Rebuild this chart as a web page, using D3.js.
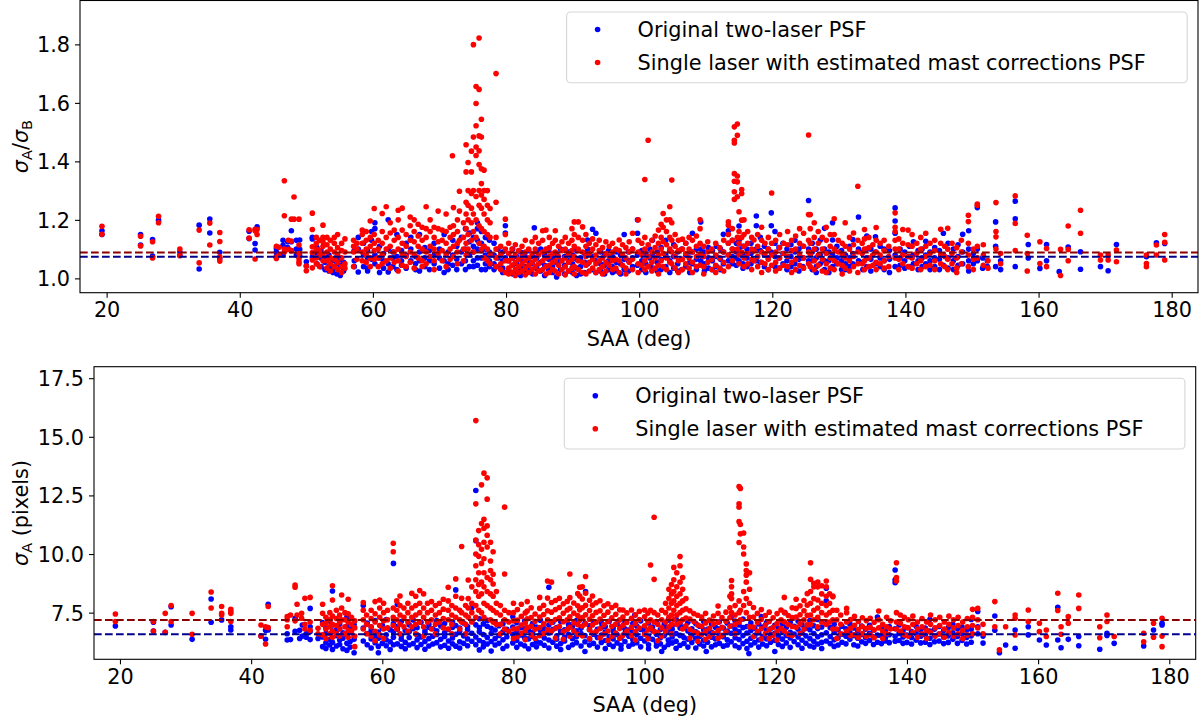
<!DOCTYPE html>
<html>
<head>
<meta charset="utf-8">
<script src="https://cdn.jsdelivr.net/npm/d3@7"></script>
<style>
  html, body { margin: 0; padding: 0; background: #fff; }
  svg { display: block; font-family: "DejaVu Sans", sans-serif; }
</style>
</head>
<body>
<svg id="chart" width="1203" height="721"></svg>
<script>
// ---------------- DATA (columns: [SAA, value, value, ...]) ----------------
const legendLabels = ["Original two-laser PSF", "Single laser with estimated mast corrections PSF"];
const xTicks = [20, 40, 60, 80, 100, 120, 140, 160, 180];
const topYTicks = [1.0, 1.2, 1.4, 1.6, 1.8];
const bottomYTicks = [7.5, 10.0, 12.5, 15.0, 17.5];
const topMeanOriginal = 1.0738, topMeanSingle = 1.0887;
const bottomMeanOriginal = 6.58, bottomMeanSingle = 7.19;

// Top panel: sigma_A / sigma_B, original two-laser PSF
const topOriginal = [
[19.3,1.163,1.15],[25.1,1.15,1.114],[26.9,1.133,1.076],[27.8,1.199],[31.0,1.09,1.078],[33.9,1.182,1.032],
[35.5,1.203,1.155],[37.0,1.089,1.068],[41.4,1.161,1.136],[42.3,1.119,1.097],[42.6,1.176],
[45.5,1.102,1.076,1.09],[46.5,1.13,1.113,1.08],[47.2,1.125,1.105],[47.75,1.163,1.125,1.095],[48.5,1.13,1.10,1.08],
[49.0,1.131,1.099,1.078],[50.0,1.057,1.042],[50.9,1.14,1.135,1.073],[51.6,1.105,1.085,1.05],[52.2,1.095,1.07,1.04],
[52.8,1.07,1.055,1.03],[53.4,1.08,1.04,1.025],[54.0,1.06,1.035,1.02],[54.6,1.075,1.05,1.015],[55.1,1.065,1.045,1.01],
[55.6,1.055,1.03,1.025],[57.2,1.095,1.06,1.04],[57.8,1.14,1.1,1.022],[58.6,1.12,1.08,1.04],[59.2,1.095,1.07,1.025,1.035],
[59.8,1.16,1.13,1.065],[60.3,1.19,1.17,1.08,1.05],[61.0,1.11,1.07,1.02],[61.6,1.085,1.06,1.035],[62.3,1.2,1.1,1.05,1.022],
[63.0,1.09,1.07,1.04],[63.6,1.15,1.075,1.03],[64.3,1.095,1.06,1.045],[65.0,1.12,1.08,1.035],[65.7,1.14,1.1,1.06],
[66.4,1.075,1.05,1.03],[67.0,1.15,1.09,1.06,1.025],[67.8,1.105,1.07,1.04],[68.5,1.095,1.06,1.03],[69.2,1.12,1.08,1.05],
[70.0,1.1,1.07,1.035],[70.7,1.15,1.06,1.02],[71.3,1.09,1.05,1.03],[72.0,1.13,1.08,1.045],[72.6,1.11,1.065,1.03],
[73.3,1.14,1.09,1.05],[73.9,1.17,1.1,1.06,1.03],[74.5,1.155,1.125,1.08,1.04],[75.1,1.14,1.11,1.09,1.06,1.04],
[75.7,1.19,1.17,1.13,1.1,1.07,1.045],[76.3,1.16,1.12,1.095,1.07,1.03],[76.9,1.14,1.1,1.08,1.05,1.03],
[77.5,1.13,1.09,1.06,1.04],[78.2,1.12,1.08,1.05,1.03],[78.8,1.1,1.07,1.04],[79.5,1.09,1.06,1.035,1.02],[79.9,1.18,1.155,1.07],
[80.4,1.085,1.06,1.03],[81.0,1.1,1.07,1.045,1.015],[81.6,1.075,1.05,1.02],[82.2,1.09,1.065,1.035,1.01],[82.8,1.08,1.04,1.02],
[83.4,1.095,1.06,1.03],[84.0,1.075,1.05,1.015],[84.25,1.173],[84.6,1.09,1.07,1.035],[85.2,1.1,1.055,1.025],[85.8,1.08,1.045,1.01],
[86.4,1.095,1.065,1.03],[87.0,1.07,1.04,1.02],[87.6,1.085,1.055,1.005],[88.2,1.1,1.06,1.03],[88.8,1.075,1.045,1.015],
[89.4,1.09,1.06,1.025],[90.0,1.08,1.05,1.02],[90.6,1.095,1.065,1.035,1.01],[91.2,1.07,1.04,1.015],[91.8,1.085,1.055,1.02],
[92.25,1.131,1.1,1.05],[93.0,1.168,1.075,1.03],[93.5,1.154,1.06,1.02],[94.2,1.09,1.05,1.025],[94.8,1.08,1.045,1.015],
[95.4,1.095,1.06,1.03],[96.0,1.075,1.04,1.02],[96.6,1.09,1.055,1.025],[97.2,1.08,1.05,1.015],[97.75,1.15,1.065,1.03],
[98.4,1.09,1.06,1.025],[99.0,1.1,1.07,1.04],[99.75,1.2,1.154,1.08,1.045],[100.4,1.095,1.06,1.03],[101.0,1.085,1.05,1.02],
[101.6,1.1,1.07,1.04],[102.0,1.13,1.08,1.035],[102.7,1.09,1.055,1.025],[103.3,1.105,1.065,1.03],[104.0,1.13,1.08,1.04],
[104.6,1.095,1.06,1.02],[105.2,1.115,1.075,1.035],[105.8,1.09,1.05,1.025],[106.4,1.1,1.065,1.03],[107.0,1.12,1.08,1.04],
[107.6,1.09,1.055,1.02],[108.0,1.154,1.09,1.05],[108.6,1.1,1.065,1.03],[109.25,1.193,1.1,1.06],[109.8,1.09,1.05,1.025],
[110.4,1.105,1.07,1.035],[111.0,1.095,1.06,1.03],[111.6,1.11,1.075,1.04],[112.2,1.1,1.065,1.03],[112.65,1.151,1.09,1.05],
[113.4,1.163,1.12,1.08,1.06],[114.0,1.13,1.1,1.075,1.05],[114.6,1.12,1.09,1.07,1.045],[115.0,1.179,1.13,1.1,1.06],
[115.6,1.11,1.08,1.05,1.035],[116.2,1.1,1.07,1.04],[116.8,1.12,1.085,1.05],[117.6,1.213,1.18,1.1,1.06],[118.2,1.14,1.095,1.055],
[118.8,1.11,1.08,1.04],[119.4,1.1,1.07,1.03],[119.85,1.224,1.18,1.09],[120.4,1.16,1.12,1.075,1.04],[121.0,1.105,1.07,1.035],
[121.6,1.12,1.085,1.05],[122.2,1.1,1.06,1.03],[122.8,1.115,1.075,1.04],[123.4,1.13,1.09,1.05],[124.0,1.1,1.065,1.025],
[124.6,1.11,1.07,1.04],[125.45,1.266,1.1,1.06],[126.0,1.12,1.09,1.06,1.03],[126.6,1.1,1.07,1.04,1.02],[127.2,1.13,1.08,1.05],
[127.85,1.171,1.1,1.06,1.03],[128.5,1.09,1.06,1.02],[129.05,1.131,1.19,1.08,1.04],[129.7,1.11,1.07,1.05],[130.4,1.095,1.06,1.03],
[131.0,1.08,1.05,1.03],[131.6,1.11,1.07,1.04],[132.1,1.133,1.085,1.05],[132.95,1.21,1.1,1.06],[133.6,1.09,1.055,1.03],
[134.2,1.145,1.1,1.07,1.04],[134.8,1.1,1.065,1.025],[135.5,1.142,1.09,1.05],[136.2,1.11,1.07,1.04],[136.8,1.1,1.06,1.03],
[137.6,1.095,1.065,1.02],[138.45,1.241,1.196,1.154,1.08,1.04],[139.2,1.1,1.07,1.045],[139.9,1.09,1.06,1.035],
[140.6,1.11,1.075,1.04],[141.2,1.125,1.08,1.05],[141.9,1.095,1.06,1.03],[142.5,1.1,1.07,1.04],[143.05,1.127,1.08,1.05],
[143.7,1.09,1.06,1.03],[144.4,1.105,1.07,1.04],[145.1,1.095,1.065,1.03],[145.7,1.154,1.08,1.045],[146.4,1.12,1.07,1.035],
[147.2,1.1,1.06,1.03],[147.9,1.115,1.075,1.045],[148.6,1.151,1.09,1.05],[149.5,1.163,1.1,1.06,1.025],[150.2,1.085,1.05],
[150.8,1.242,1.1,1.06],[151.6,1.07,1.035],[152.3,1.06,1.04],[153.55,1.193,1.11,1.04],[154.3,1.03,1.06],
[156.5,1.264,1.204,1.04],[158.45,1.116,1.07],[160.2,1.034],[161.2,1.116,1.06],[163.1,1.023],[164.45,1.107],
[166.3,1.091,1.031],[169.3,1.04],[170.45,1.026],[171.7,1.116],[176.2,1.074],[177.7,1.122],[178.95,1.119]
];

// Top panel: sigma_A / sigma_B, single laser with estimated mast corrections PSF
const topSingle = [
[19.3,1.178,1.151],[25.1,1.144,1.111],[26.9,1.125,1.07],[27.8,1.2125,1.19],[31.0,1.1,1.078],[33.9,1.165,1.053],
[35.5,1.189,1.114],[37.0,1.157,1.126,1.074,1.059],[41.4,1.166,1.1375],[42.3,1.168,1.1625,1.066],[42.6,1.167,1.15],
[45.5,1.11,1.068,1.072],[45.9,1.106,1.08],[46.7,1.334,1.214,1.1,1.09],[47.3,1.13,1.099],[47.75,1.2025,1.128,1.095],
[48.15,1.278,1.2025],[48.9,1.2025,1.114,1.085,1.068,1.057,1.05],[50.0,1.042,1.026],
[50.9,1.223,1.167,1.108,1.088,1.063,1.036],[51.5,1.14,1.12,1.1,1.07,1.05],[52.0,1.13,1.095,1.08,1.04],
[52.5,1.182,1.14,1.125,1.11,1.08,1.06],[53.1,1.14,1.115,1.09,1.06,1.035],[53.6,1.13,1.1,1.07,1.05,1.025],
[54.2,1.14,1.12,1.09,1.065,1.04],[54.7,1.15,1.105,1.08,1.055,1.03],[55.3,1.12,1.095,1.07,1.04,1.02],
[55.8,1.135,1.09,1.05,1.035],[57.1,1.13,1.11,1.09,1.04],[57.6,1.12,1.1,1.065],[58.4,1.165,1.15,1.12,1.09,1.06],
[59.0,1.16,1.13,1.1,1.08,1.055],[59.6,1.196,1.14,1.11,1.07,1.04],[60.2,1.239,1.15,1.12,1.095,1.065],
[60.8,1.13,1.1,1.07,1.04],[61.4,1.222,1.16,1.12,1.08,1.05],[62.0,1.245,1.14,1.1,1.06],[62.6,1.19,1.155,1.11,1.07,1.035],
[63.2,1.165,1.13,1.09,1.055],[63.8,1.233,1.2,1.14,1.1,1.06,1.025],[64.4,1.24,1.165,1.12,1.08,1.045],
[65.0,1.15,1.11,1.075,1.04],[65.6,1.21,1.18,1.13,1.09,1.055],[66.2,1.2,1.16,1.125,1.08,1.035],[66.8,1.185,1.145,1.11,1.07],
[67.4,1.175,1.13,1.1,1.06,1.04],[68.0,1.245,1.17,1.14,1.09,1.05],[68.6,1.2,1.16,1.11,1.075],[69.2,1.175,1.14,1.1,1.06,1.03],
[69.8,1.23,1.17,1.125,1.085],[70.4,1.165,1.13,1.095,1.06],[71.0,1.22,1.16,1.12,1.08,1.04],[71.6,1.175,1.14,1.1,1.065],
[71.95,1.419],[72.1,1.242,1.18,1.15,1.11,1.075],[72.7,1.2,1.16,1.12,1.09,1.05],[73.0,1.298,1.23,1.13],
[73.6,1.19,1.14,1.1,1.06],[74.0,1.457,1.364,1.26,1.22,1.17,1.12,1.08],[74.3,1.396,1.3,1.25,1.2,1.15,1.1],
[74.8,1.435,1.364,1.29,1.24,1.19,1.13],[75.1,1.799,1.483,1.3,1.22,1.16,1.09],
[75.5,1.656,1.598,1.522,1.449,1.42,1.28,1.2,1.14],[75.95,1.822,1.646,1.487,1.436,1.389,1.3,1.25,1.18,1.12],
[76.3,1.544,1.483,1.375,1.324,1.285,1.24,1.17,1.1],[76.7,1.37,1.3,1.27,1.22,1.16,1.11,1.07],
[77.2,1.3,1.25,1.2,1.15,1.1,1.06],[77.6,1.239,1.19,1.14,1.08,1.05],[78.5,1.70,1.26,1.14,1.1,1.07,1.04],
[79.2,1.11,1.08,1.05,1.03],[79.9,1.2025,1.15,1.1,1.06,1.02],
[80.4,1.12,1.085,1.06,1.035,1.015],[80.9,1.1,1.07,1.045,1.02],[81.4,1.115,1.08,1.055,1.03,1.01],[81.9,1.095,1.065,1.04,1.02],
[82.4,1.11,1.075,1.05,1.025],[82.9,1.13,1.09,1.06,1.035,1.012],[83.4,1.1,1.07,1.045,1.02],[83.9,1.125,1.085,1.055,1.03],
[84.4,1.14,1.1,1.065,1.04,1.015],[84.9,1.12,1.08,1.05,1.025],[85.5,1.163,1.13,1.09,1.06,1.03],[86.0,1.165,1.1,1.07,1.04,1.015],
[86.5,1.14,1.105,1.075,1.045,1.02],[87.0,1.12,1.085,1.055,1.03],[87.4,1.163,1.13,1.09,1.06,1.025],[87.9,1.11,1.075,1.045,1.015],
[88.4,1.125,1.095,1.06,1.03],[88.9,1.14,1.1,1.07,1.04,1.012],[89.4,1.12,1.085,1.055,1.025],[89.9,1.17,1.13,1.095,1.065,1.035],
[90.25,1.193,1.15,1.11,1.075,1.04,1.015],[90.85,1.193,1.14,1.1,1.06,1.03],[91.5,1.176,1.13,1.09,1.055,1.02],
[92.0,1.15,1.11,1.075,1.045,1.015],[92.5,1.12,1.085,1.055,1.025],[93.0,1.135,1.1,1.065,1.035],[93.5,1.115,1.08,1.05,1.02],
[94.0,1.13,1.095,1.06,1.03],[94.5,1.105,1.07,1.04,1.015],[95.0,1.125,1.085,1.055,1.025],[95.5,1.11,1.075,1.045],
[96.0,1.12,1.09,1.06,1.03],[96.5,1.1,1.065,1.035],[97.0,1.131,1.095,1.06,1.02],[97.5,1.115,1.08,1.045],
[98.0,1.105,1.07,1.035,1.015],[98.5,1.125,1.09,1.055],[99.0,1.154,1.1,1.065,1.03],[99.85,1.2,1.13,1.09,1.05,1.02],
[100.4,1.12,1.08,1.045],[100.85,1.338,1.14,1.1,1.06,1.03],[101.35,1.472,1.115,1.075,1.04],[101.9,1.13,1.09,1.055,1.025],
[102.4,1.145,1.105,1.07,1.035],[102.9,1.165,1.12,1.08,1.045,1.015],[103.3,1.185,1.14,1.1,1.06],
[103.6,1.222,1.175,1.125,1.085,1.04],[104.1,1.2,1.16,1.115,1.07,1.03],[104.6,1.245,1.2,1.14,1.1,1.055],
[104.9,1.336,1.19,1.13,1.09,1.05],[105.4,1.15,1.11,1.075,1.035],[105.9,1.13,1.095,1.06,1.02],[106.5,1.134,1.1,1.065,1.03],
[107.0,1.12,1.085,1.05],[107.5,1.14,1.1,1.07,1.035],[108.0,1.13,1.09,1.055,1.02],[108.6,1.145,1.11,1.075,1.04],
[109.15,1.2,1.17,1.12,1.08,1.045],[109.7,1.11,1.075,1.04,1.015],[110.3,1.125,1.09,1.055],[110.9,1.1,1.065,1.03],
[111.5,1.12,1.08,1.045,1.02],[112.1,1.105,1.07,1.035],[112.7,1.13,1.09,1.055,1.025],[113.4,1.193,1.182,1.15,1.12,1.08,1.04],
[114.0,1.17,1.13,1.1,1.06],[114.3,1.518,1.472,1.463,1.358,1.332,1.296,1.27],[114.75,1.528,1.489,1.35,1.33,1.279,1.14,1.1],
[115.0,1.228,1.16,1.12,1.08,1.05],[115.4,1.304,1.29,1.199,1.14,1.09],[115.75,1.2,1.15,1.11,1.07,1.04],
[116.3,1.16,1.12,1.085,1.05],[116.9,1.14,1.1,1.065,1.03],[117.25,1.131,1.095,1.06],[117.8,1.15,1.11,1.075,1.04],
[118.4,1.175,1.13,1.09,1.055,1.02],[118.9,1.12,1.085,1.05],[119.4,1.14,1.1,1.065,1.03],[119.9,1.292,1.12,1.08,1.045],
[120.5,1.13,1.09,1.055,1.025],[121.1,1.15,1.105,1.07,1.035],[121.7,1.12,1.085,1.045],[122.3,1.16,1.115,1.075,1.04],
[122.9,1.13,1.095,1.055,1.02],[123.5,1.145,1.1,1.065,1.03],[124.1,1.17,1.12,1.08,1.045],[124.7,1.154,1.11,1.07,1.035],
[125.45,1.49,1.218,1.13,1.09,1.05],[125.7,1.218,1.17,1.12,1.08,1.04],
[126.3,1.19,1.14,1.1,1.06,1.03],[126.9,1.16,1.12,1.08,1.045],[127.5,1.14,1.1,1.065,1.025],[128.1,1.175,1.13,1.085,1.05,1.02],
[128.7,1.15,1.11,1.07,1.035],[129.3,1.204,1.15,1.1,1.06,1.03],[129.9,1.13,1.09,1.05],[130.5,1.12,1.08,1.045,1.015],
[130.95,1.19,1.11,1.07,1.035],[131.6,1.14,1.1,1.06,1.025],[132.2,1.155,1.115,1.075,1.04],[132.85,1.315,1.13,1.09,1.05,1.02],
[133.5,1.12,1.085,1.05],[133.85,1.167,1.135,1.1,1.06,1.03],[134.5,1.14,1.105,1.07,1.04],[135.1,1.115,1.08,1.045],
[135.6,1.174,1.13,1.09,1.055,1.03],[136.2,1.12,1.08,1.05],[136.8,1.13,1.095,1.06,1.035],[137.5,1.11,1.075,1.04],
[138.45,1.224,1.175,1.16,1.13,1.1,1.07],[139.0,1.135,1.1,1.065,1.03],[139.6,1.167,1.12,1.08,1.05],
[140.4,1.165,1.115,1.075,1.04],[141.0,1.15,1.11,1.07,1.035],[141.7,1.12,1.085,1.05],[142.3,1.14,1.1,1.06,1.03],
[143.05,1.154,1.11,1.075,1.04],[143.7,1.12,1.085,1.045],[144.4,1.13,1.095,1.06,1.03],[145.3,1.168,1.12,1.08,1.05],
[145.9,1.11,1.075,1.04],[146.35,1.171,1.1,1.065,1.03],[147.0,1.12,1.085,1.05],[147.7,1.105,1.07,1.035,1.02],
[148.4,1.13,1.09,1.05],[149.45,1.216,1.194,1.12,1.08,1.04],[150.2,1.1,1.065,1.03],[150.8,1.254,1.25,1.11,1.07],
[151.7,1.115,1.08,1.045],[152.4,1.06,1.035],[153.6,1.259,1.16,1.142,1.1],[154.3,1.05,1.085],[156.5,1.282,1.188,1.095],
[158.3,1.147,1.085,1.025],[160.2,1.125,1.051],[161.2,1.102,1.04],[163.3,1.01,1.099],[164.45,1.179,1.099,1.06],
[166.3,1.233,1.154],[169.3,1.08,1.063],[170.45,1.08,1.063],[171.7,1.097,1.057],[176.2,1.08,1.051,1.04],
[177.7,1.114,1.08],[178.95,1.15,1.123,1.063]
];

// Bottom panel: sigma_A (pixels), original two-laser PSF
const bottomOriginal = [
[19.3,6.93],[25.1,7.09,6.72],[26.9,6.66],[27.8,7.75,6.97],[31.0,6.36],[33.9,8.08,7.09],[35.5,7.19],[36.9,6.90,6.76],
[41.5,6.5],[42.2,6.36,6.75],[42.6,7.86,6.76],[45.5,6.6,6.33],[46.0,6.35],[46.7,7.26,6.7],[47.4,6.75,6.4],[47.8,6.97,6.5],
[48.4,6.6,6.45],[49.0,7.68,6.9,6.7,6.35],[50.2,6.4],
[50.9,7.08,6.46,6.05],[51.4,6.83,6.62,6.21,5.97],[52.0,7.14,6.35,6.12],[52.4,8.42,6.97,6.71,6.24,5.93],[53.0,6.76,6.52,6.08],
[53.5,7.02,6.81,6.33,6.14],[54.0,6.64,6.41,5.96],[54.6,7.31,6.92,6.57,6.19,5.89],[55.1,6.78,6.27,6.03],[55.7,6.99,6.48,6.36,5.79],
[57.1,7.8,6.84,6.29],[57.7,7.06,6.61,6.13],[58.3,6.89,6.74,6.38,5.99],[58.9,7.16,6.47,6.22],[59.4,6.67,6.41,6.06,5.79],
[60.0,6.96,6.83,6.19],[60.6,7.21,6.56,6.34,6.09],[61.2,6.77,6.26,5.93],[61.7,9.6,7.03,6.68,6.45,6.13],[62.3,7.86,6.91,6.79,6.17],
[62.9,7.12,6.52,6.37,6.06],[63.5,6.74,6.23,5.96],[64.1,6.98,6.69,6.44,6.12],[64.7,7.19,6.81,6.18],[65.3,6.86,6.55,6.33,6.01],
[65.9,7.09,6.46,6.14],[66.5,6.72,6.62,6.27,5.94],[67.1,7.01,6.88,6.39,6.08],[67.7,6.81,6.49,6.16],[68.3,7.16,6.73,6.57,6.22],
[68.9,6.93,6.36,6.04],[69.5,7.04,6.64,6.48,6.11],[70.1,6.78,6.29,5.98],[70.7,7.11,6.87,6.42,6.17],[71.2,8.47,6.95,6.58,6.07],
[71.8,6.84,6.71,6.26,5.99],[72.4,7.06,6.51,6.19],[73.0,6.91,6.77,6.38,6.09],[73.65,7.71,7.13,6.62,6.28],
[74.26,12.71,10.57,6.98,6.46,6.13],[74.8,7.24,6.86,6.69,6.31,5.91],[75.4,7.02,6.57,6.22,6.04],[76.0,7.17,6.92,6.44,6.16],
[76.6,6.83,6.61,6.27,5.86],[77.2,7.08,6.76,6.39,6.12],[77.8,6.94,6.53,6.19],[78.4,7.03,6.68,6.34,5.97],[79.0,6.79,6.47,6.08],
[79.9,7.32,6.89,6.58,6.21],[80.5,7.07,6.71,6.31,6.02],[81.1,6.86,6.55,6.16],[81.7,7.14,6.82,6.43,6.09],[82.3,6.75,6.38,5.96],
[82.9,7.03,6.66,6.49,6.14],[83.5,6.89,6.27,6.04],[84.1,7.18,6.74,6.56,6.21],[84.7,6.81,6.42,6.11],[85.4,8.58,6.97,6.63,6.33,5.99],
[86.0,7.09,6.78,6.24],[86.6,6.86,6.51,6.37,6.07],[87.2,7.12,6.69,6.18,5.93],[87.8,6.77,6.46,6.29],[88.4,7.01,6.84,6.58,6.02],
[89.0,6.92,6.39,6.13],[89.6,7.16,6.73,6.47,6.22],[90.3,6.83,6.61,6.08],[90.9,7.05,6.52,6.26,5.84],[91.0,8.4],
[91.6,6.94,6.77,6.36,6.12],[92.2,7.11,6.58,6.19],[92.8,6.79,6.44,6.03],[93.4,7.07,6.86,6.54,6.23],[94.0,6.91,6.67,6.31,5.97],
[94.6,7.13,6.48,6.15],[95.2,6.84,6.72,6.38,6.06],[95.8,7.02,6.57,6.21],[96.4,6.88,6.43,6.11,5.95],[97.0,7.09,6.81,6.62,6.27],
[97.6,6.76,6.49,6.07],[98.2,7.04,6.69,6.34,6.16],[98.5,7.4],[98.8,6.93,6.56,6.22],[99.4,7.15,6.78,6.41,6.04],
[100.0,6.82,6.63,6.29],[100.6,7.06,6.47,6.13,5.96],[101.2,6.89,6.74,6.36],[101.8,7.12,6.58,6.24,6.08],[102.4,6.78,6.43,6.17],
[102.6,5.84],[103.0,7.01,6.86,6.52,6.02],[103.6,7.18,6.67,6.33,6.14],[104.2,6.94,6.79,6.46,6.21],[104.8,7.22,6.61,6.28,5.98],
[105.4,7.03,6.84,6.53,6.11],[106.0,6.87,6.44,6.19],[106.6,7.09,6.72,6.37,6.03],[107.2,6.81,6.56,6.23],[107.8,7.04,6.68,6.41,5.99],
[108.4,6.92,6.49,6.16],[109.0,7.13,6.77,6.32,6.08],[109.4,5.84],[109.6,6.79,6.59,6.24],[110.2,7.02,6.66,6.45,6.04],
[110.8,6.88,6.38,6.13],[111.4,7.11,6.81,6.54,6.19],[112.0,6.84,6.47,6.07],[112.6,7.06,6.71,6.34,6.12],[113.2,7.31,6.93,6.62,6.26],
[113.8,7.14,6.78,6.43,6.09],[114.4,6.97,6.69,6.35,6.01],[115.0,7.23,6.86,6.52,6.18],[115.6,6.91,6.63,6.28,5.97],[115.9,5.76],
[116.2,7.07,6.74,6.41,6.12],[116.8,6.83,6.53,6.22],[117.4,7.02,6.64,6.33,6.03],[117.8,7.33],[118.0,6.89,6.47,6.16],
[118.6,7.08,6.76,6.38,6.09],[119.2,6.81,6.57,6.24],[119.85,6.96,6.62,6.31,5.84],[120.4,6.84,6.48,6.14],[121.0,7.03,6.71,6.37,6.06],
[121.4,7.5],[121.6,6.87,6.53,6.21],[122.2,7.09,6.66,6.42,6.02],[122.8,6.92,6.59,6.27],[123.4,7.14,6.79,6.46,6.13],
[124.0,6.98,6.63,6.32,5.98],[124.6,6.83,6.51,6.19],[125.2,7.16,6.77,6.39,6.08],[125.8,6.94,6.61,6.28,6.03],
[126.4,7.21,6.82,6.47,6.16],[127.0,6.89,6.56,6.23,5.97],[127.7,8.54,8.0,7.03,6.64,6.29],[128.3,6.86,6.48,6.18],
[128.9,7.01,6.67,6.34,6.06],[129.5,6.77,6.43,6.12],[130.1,6.92,6.58,6.24],[130.7,6.81,6.49,6.17],[131.3,7.02,6.66,6.36],
[131.9,6.84,6.52,6.13],[132.5,6.74,6.41,6.08],[133.1,6.93,6.57,6.26],[133.7,6.79,6.44,6.19],[134.3,6.96,6.62,6.31],
[134.9,6.76,6.47,6.14],[135.5,7.31,6.54,6.24],[136.1,6.87,6.51,6.18],[136.7,6.71,6.43,6.29],[137.3,6.91,6.56,6.22],
[138.2,9.32,8.9,8.78,6.81,6.49,6.28],[138.8,6.97,6.61,6.31],[139.4,6.73,6.46,6.19],[140.0,6.86,6.54,6.23],[140.7,6.69,6.44,6.16],
[141.4,6.92,6.61,6.32],[142.1,6.76,6.49,6.21],[142.8,6.84,6.56,6.24],[143.5,7.22,6.71,6.41,6.14],[144.2,6.79,6.52,6.26],
[144.9,6.91,6.59,6.29],[145.6,6.74,6.46,6.18],[146.3,6.86,6.51,6.23],[147.0,7.01,6.64,6.36],[147.7,6.81,6.48,6.19],
[148.4,6.89,6.61,6.31],[149.1,6.76,6.44,6.16],[149.8,7.21,6.79,6.51,6.24],[150.8,7.55,6.9,6.6],[151.6,6.5,6.2],
[153.4,7.36,6.75],[154.1,5.79],[155.05,6.12],[156.5,6.76,5.98],[158.5,6.9,6.55],[160.2,6.33],[161.25,6.12],
[163.0,7.73,6.33],[163.5,6.0],[164.6,6.36],[166.2,6.48,6.09],[169.4,5.94],[170.5,6.62,6.53],[171.6,6.19],
[176.1,6.08],[177.6,6.76],[178.9,7.05,6.97]
];

// Bottom panel: sigma_A (pixels), single laser with estimated mast corrections PSF
const bottomSingle = [
[19.3,7.44,7.12],[25.1,7.12,6.72],[26.9,7.47,6.66],[27.8,7.80,7.12],[31.0,7.47,6.58],[33.9,8.38,7.70],[35.5,7.76,7.47,7.4],
[36.9,7.64,7.55,7.47,7.12],[41.5,6.97,6.50],[42.2,6.90,6.16],[42.6,7.76,6.86],[45.5,7.33,7.2,6.9],[46.0,7.4],
[46.7,8.68,8.58,7.15],[47.0,7.86,7.4],[47.7,7.47,7.26],[48.2,8.11,7.0,6.8],[49.0,8.15,7.1,6.75],[50.2,6.83,6.6],
[50.9,7.86,7.47,7.0,6.55],[51.4,7.3,7.05,6.8,6.4],[52.0,7.5,7.2,6.9,6.6],[52.4,8.65,8.04,7.35,7.0,6.7,6.45],
[53.0,7.6,7.25,6.95,6.6],[53.5,7.4,7.1,6.8,6.5],[53.8,8.25,7.7,7.2],[54.3,7.5,7.2,6.9,6.6],[54.8,8.07,7.45,7.1,6.75,6.45],
[55.3,7.3,7.0,6.7],[55.8,7.15,6.85,6.5,6.05],[57.1,7.93,7.6,7.2,6.8],[57.6,7.4,7.0,6.6],[58.3,7.6,7.25,6.9,6.5],
[58.9,7.97,7.45,7.1,6.7,6.3],[59.6,8.04,7.7,7.3,6.95,6.55],[60.2,7.9,7.5,7.15,6.8,6.4],[60.8,7.6,7.2,6.85],
[61.67,10.46,10.1,7.7,7.3,6.95],[62.2,8.0,7.6,7.2,6.8],[62.7,8.21,7.8,7.4,7.0,6.6],[63.3,7.7,7.3,6.9],[63.9,7.9,7.5,7.1,6.7],
[64.5,8.32,7.7,7.3,6.9],[65.1,8.2,7.8,7.4,7.0,6.6],[65.7,8.44,7.9,7.5,7.1],[66.3,8.3,7.7,7.3,6.9,6.5],[66.9,7.9,7.5,7.1],
[67.5,7.97,7.6,7.2,6.8],[68.1,7.8,7.4,7.0,6.6],[68.7,7.9,7.5,7.1],[69.3,8.07,7.65,7.25,6.85],[70.05,8.58,8.0,7.6,7.2,6.8],
[70.6,7.8,7.4,7.0,6.6],[71.2,8.94,8.2,7.7,7.3],[71.8,7.6,7.2,6.8],[72.1,10.32,8.11,7.5,7.1],[72.7,7.8,7.4,7.0,6.6],
[73.1,8.89,8.1,7.7,7.3],[73.65,8.6,7.9,7.5,7.1],[74.26,15.69,12.14,10.6,10.0,9.5,8.9,8.4,7.8,7.3],
[74.7,11.0,10.4,9.9,9.2,8.7,8.2,7.6],[75.13,12.95,11.3,10.2,9.6,8.8,8.3,7.5],
[75.5,13.45,11.48,11.1,10.5,9.8,9.2,8.6,7.9,7.3],[75.99,13.25,12.34,11.2,10.8,10.3,9.0,8.4,7.8],
[76.5,10.5,9.7,9.3,8.9,8.3,7.7,7.2],[76.9,10.1,9.14,8.72,8.2,7.6,7.1],[77.4,8.4,7.9,7.5,7.0],[78.0,7.8,7.4,7.0,6.6],
[78.65,12.0,9.15,7.6,7.2,6.8],[79.3,7.5,7.1,6.7],[80.0,7.9,7.5,7.15,6.8,6.4],
[80.6,7.63,7.18,6.81,6.47],[81.2,7.86,7.34,6.97,6.62],[81.8,7.49,7.06,6.73,6.34],[82.1,7.97,7.57,7.24,6.88],
[82.7,7.71,7.29,6.92,6.55],[83.3,7.44,7.13,6.79,6.41],[84.0,8.15,7.68,7.31,6.86,6.52],[84.6,7.81,7.42,7.02,6.61],
[85.2,8.85,8.12,7.58,7.19,6.77],[85.8,8.8,7.93,7.52,7.08,6.71],[86.4,8.02,7.63,7.21,6.83,6.42],[87.0,8.11,7.72,7.28,6.91],
[87.6,7.88,7.47,7.11,6.68,6.36],[88.2,7.98,7.61,7.19,6.79],[88.6,9.15,8.14,7.69,7.32,6.88,6.49],[89.2,7.91,7.48,7.07,6.72],
[89.8,8.31,7.79,7.38,6.99,6.58],[90.1,8.58,8.21,7.62,7.18],[90.5,8.6,8.08,7.71,7.29,6.93,6.51],[91.0,9.04,8.33,7.81,7.41,7.02],
[91.6,8.03,7.59,7.22,6.78,6.39],[92.05,8.21,7.82,7.37,6.97,6.63],[92.6,7.92,7.51,7.09,6.69],[93.2,8.01,7.58,7.23,6.81,6.43],
[93.8,7.79,7.39,6.98,6.59],[94.4,7.88,7.52,7.12,6.72,6.31],[95.0,7.72,7.28,6.92,6.49],[95.6,7.81,7.43,7.01,6.63],
[96.2,7.62,7.19,6.82,6.41],[96.7,7.61,7.31,6.96,6.54],[97.3,7.49,7.08,6.71],[98.0,7.61,7.26,6.88,6.52],
[98.6,7.41,7.04,6.69,6.33],[99.2,7.56,7.21,6.84],[100.0,7.61,7.32,6.94,6.58],[100.5,7.48,7.11,6.76,6.38],
[100.9,9.53,7.6,7.2,6.85],[101.45,11.57,8.92,7.5,7.1,6.7],[102.0,7.4,7.0,6.65,6.3],
[102.6,7.6,7.2,6.85,6.5],[103.2,7.9,7.5,7.1,6.7],[103.7,8.5,8.1,7.7,7.3,6.9],[104.1,8.7,8.3,7.9,7.4,7.0,6.6],
[104.45,9.43,8.9,8.4,8.0,7.6,7.2],[104.9,9.2,8.6,8.2,7.8,7.4,7.0],[105.4,9.89,9.5,8.8,8.3,7.9,7.5,7.1],
[105.8,9.0,8.5,8.0,7.6,7.2,6.8],[106.3,8.1,7.66,7.27,6.94],[106.9,7.58,7.23,6.78,6.42],[107.5,7.46,7.12,6.67],
[108.1,7.39,6.97,6.63,6.28],[108.7,7.31,6.92,6.57],[109.3,7.47,7.06,6.71,6.36],[109.9,7.18,6.83,6.48],[110.5,7.36,7.02,6.62],
[111.2,7.78,7.47,7.09,6.74,6.41],[111.8,7.29,6.88,6.53],[112.4,7.52,7.13,6.68],[113.0,8.2,7.71,7.28,6.92],
[113.25,8.87,8.6,8.3,8.1,7.5],[113.8,7.8,7.4,7.0,6.6],
[114.4,12.88,12.14,12.0,11.38,10.49,8.0,7.5,7.1],[114.6,12.8,11.26,10.86,7.6,7.2],[115.1,10.9,10.3,10.0,8.4,7.8],
[115.5,9.58,9.3,9.1,8.8,8.1,7.5],[116.0,9.2,8.5,7.9,7.3,6.9],[116.6,7.72,7.31,6.89,6.48],[117.2,7.47,7.08,6.69],
[117.8,7.63,7.21,6.81,6.38],[118.4,7.38,6.97,6.61],[119.0,7.52,7.12,6.77,6.39],[119.6,7.28,6.88,6.54],
[120.2,7.46,7.04,6.69,6.33],[120.8,7.61,7.19,6.82],[121.3,8.15,7.51,7.11,6.72],[121.9,7.38,6.99,6.58],
[122.5,7.71,7.29,6.91,6.52],[123.1,8.07,7.68,7.31,6.88],[123.7,7.79,7.41,7.02,6.61],[124.3,8.02,7.58,7.19,6.79],
[124.8,8.31,7.82,7.39,6.98],[125.3,9.63,8.92,8.4,7.9,7.4,7.0],
[125.8,8.75,8.6,8.1,7.6,7.2],[126.4,8.8,8.6,8.04,7.7,7.3,6.9],[127.0,8.65,8.3,7.9,7.5,7.1],[127.7,8.85,8.6,8.2,7.8,7.4,7.0],
[128.2,8.3,7.9,7.5,7.1],[128.7,8.21,8.18,7.6,7.2,6.8],[129.3,7.6,7.2,6.8,6.4],[129.9,7.4,7.0,6.6],[130.8,7.68,7.5,7.1,6.7],
[131.4,7.21,6.83,6.52],[132.0,7.34,6.96,6.57],[132.6,7.12,6.78,6.44],[133.2,7.28,6.91,6.61],[133.8,7.16,6.82,6.48],
[134.4,7.26,6.88,6.56],[135.0,7.09,6.76,6.43],[135.7,7.57,7.2,6.85],[136.3,7.0,6.7,6.4],[136.9,7.3,6.9,6.6],[137.5,7.15,6.8],
[138.4,9.63,9.0,8.85,7.5,7.1,6.8],[139.0,7.4,7.05,6.7],[139.6,7.3,6.9,6.55],[140.2,7.2,6.85,6.5],[140.9,7.35,7.0,6.65],
[141.6,7.1,6.8,6.45],[142.3,7.25,6.9,6.6],[143.0,7.1,6.75,6.4],[143.6,7.4,7.0,6.65],[144.3,7.2,6.85,6.5],
[145.0,7.3,6.95,6.6],[145.7,7.1,6.8,6.45],[146.4,7.35,7.0,6.65],[147.1,7.2,6.85,6.5],[147.8,7.3,6.95,6.6],
[148.5,7.1,6.75,6.4],[149.2,7.25,6.9,6.55],[150.0,7.64,7.3,6.95,6.6],[150.8,7.68,7.2,6.85],[151.6,7.0,6.6],
[153.4,7.97,6.9],[154.1,5.91],[155.05,6.9],[156.5,7.4,7.26,6.55],[158.5,7.61,7.12],[160.2,7.05,6.69],[161.25,6.76,6.48],
[163.0,8.33,7.59],[163.5,6.9,6.58],[164.6,7.33,7.05],[166.2,8.25,7.68],[169.4,6.9,6.43],[170.5,7.4,7.12],[171.6,6.48],
[176.1,6.62,6.26],[177.6,7.05,6.45],[178.9,7.26,6.5,6.05]
];

// ---------------- DRAWING ----------------
const FONT = 20.8;
const svg = d3.select("#chart");
const flat = cols => cols.flatMap(([x, ...ys]) => ys.map(y => ({x, y})));

function panel(cfg) {
  const {left, right, top, bottom, xDomain, yDomain, yTicks, yFmt, orig, single, meanOrig, meanSingle, yLabel, id} = cfg;
  const x = d3.scaleLinear().domain(xDomain).range([left, right]);
  const y = d3.scaleLinear().domain(yDomain).range([bottom, top]);
  const g = svg.append("g");

  g.append("clipPath").attr("id", id).append("rect")
    .attr("x", left).attr("y", top).attr("width", right - left).attr("height", bottom - top);
  const plot = g.append("g").attr("clip-path", `url(#${id})`);

  plot.append("g").selectAll("circle").data(flat(orig)).join("circle")
    .attr("cx", d => x(d.x)).attr("cy", d => y(d.y)).attr("r", 2.8).attr("fill", "#0000ff");
  plot.append("g").selectAll("circle").data(flat(single)).join("circle")
    .attr("cx", d => x(d.x)).attr("cy", d => y(d.y)).attr("r", 2.8).attr("fill", "#ff0000");

  [[meanSingle, "#8b0000"], [meanOrig, "#00008b"]].forEach(([v, c]) => {
    plot.append("line").attr("x1", left).attr("x2", right).attr("y1", y(v)).attr("y2", y(v))
      .attr("stroke", c).attr("stroke-width", 2).attr("stroke-dasharray", "7.7,3.3");
  });

  const xAxis = d3.axisBottom(x).tickValues(xTicks).tickFormat(d3.format("d")).tickSizeOuter(0).tickSize(5).tickPadding(4);
  const gx = g.append("g").attr("transform", `translate(0,${bottom})`).call(xAxis);
  const yAxis = d3.axisLeft(y).tickValues(yTicks).tickFormat(d3.format(yFmt)).tickSizeOuter(0).tickSize(5).tickPadding(5);
  const gy = g.append("g").attr("transform", `translate(${left},0)`).call(yAxis);
  [gx, gy].forEach(a => {
    a.select(".domain").remove();
    a.selectAll("line").attr("stroke", "#000").attr("stroke-width", 1.1);
    a.selectAll("text").attr("font-size", FONT).attr("font-family", "DejaVu Sans").attr("fill", "#000");
  });
  gy.selectAll("text").attr("dy", "0.36em");
  gx.selectAll("text").attr("dy", "0.76em");

  g.append("rect").attr("x", left).attr("y", top).attr("width", right - left).attr("height", bottom - top)
    .attr("fill", "none").attr("stroke", "#000").attr("stroke-width", 1.1);

  g.append("text").attr("x", (left + right) / 2).attr("y", bottom + 53).attr("text-anchor", "middle")
    .attr("font-size", FONT).text("SAA (deg)");

  const yl = g.append("text").attr("transform", `translate(28,${(top + bottom) / 2}) rotate(-90)`)
    .attr("text-anchor", "middle").attr("font-size", FONT);
  yLabel(yl);

  const lw = 620.6, lh = 70.8;
  const lx = right - 10.8 - lw, ly = top + 11.5;
  const lg = g.append("g");
  lg.append("rect").attr("x", lx).attr("y", ly).attr("width", lw).attr("height", lh).attr("rx", 4)
    .attr("fill", "#fff").attr("fill-opacity", 0.8).attr("stroke", "#d6d6d6").attr("stroke-width", 1.1);
  [["#0000ff", legendLabels[0]], ["#ff0000", legendLabels[1]]].forEach(([c, t], i) => {
    const cy = ly + 17.5 + i * 33;
    lg.append("circle").attr("cx", lx + 31).attr("cy", cy).attr("r", 2.8).attr("fill", c);
    lg.append("text").attr("x", lx + 71).attr("y", cy + 7.6).attr("font-size", FONT).text(t);
  });
}

function sigma(sel, sub) {
  sel.append("tspan").attr("font-style", "italic").text("σ");
  sel.append("tspan").attr("font-size", FONT * 0.7).attr("dy", 4).text(sub);
}

panel({
  id: "clipTop", left: 80, right: 1198, top: 0.5, bottom: 292.7,
  xDomain: [16, 183.95], yDomain: [0.951, 1.950], yTicks: topYTicks, yFmt: ".1f",
  orig: topOriginal, single: topSingle, meanOrig: topMeanOriginal, meanSingle: topMeanSingle,
  yLabel: t => {
    sigma(t, "A");
    t.append("tspan").attr("dy", -4).text("/");
    sigma(t, "B");
  }
});

panel({
  id: "clipBottom", left: 94, right: 1195.7, top: 366.7, bottom: 659.3,
  xDomain: [16.04, 184.03], yDomain: [5.51, 17.99], yTicks: bottomYTicks, yFmt: ".1f",
  orig: bottomOriginal, single: bottomSingle, meanOrig: bottomMeanOriginal, meanSingle: bottomMeanSingle,
  yLabel: t => {
    sigma(t, "A");
    t.append("tspan").attr("dy", -4).text(" (pixels)");
  }
});
</script>
</body>
</html>
